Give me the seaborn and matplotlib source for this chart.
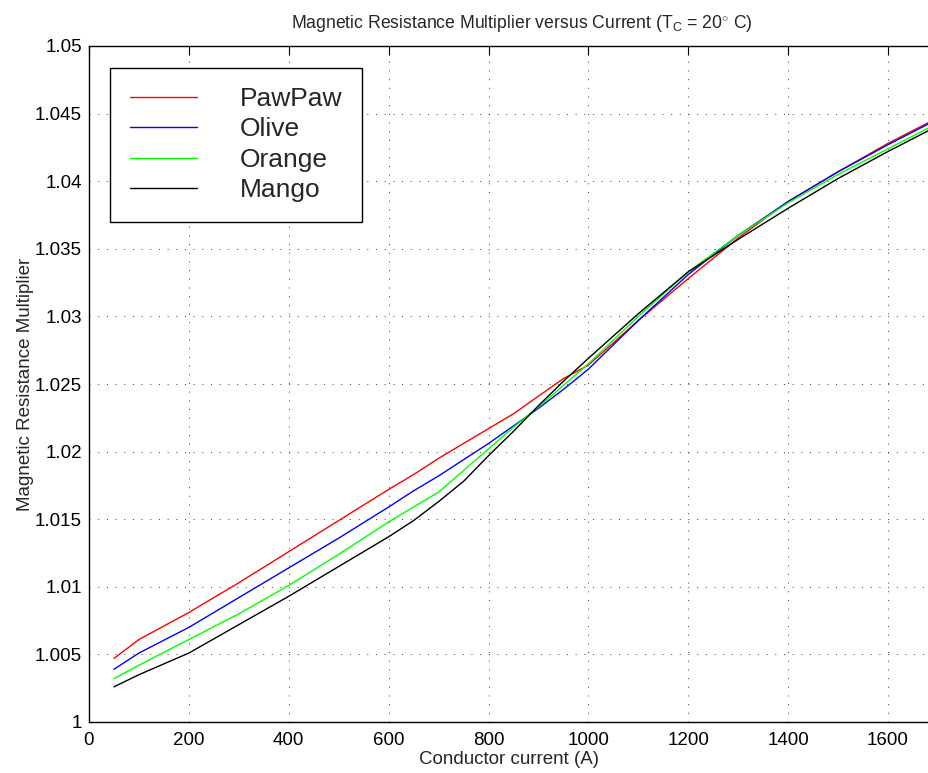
import matplotlib
matplotlib.use("Agg")
import matplotlib.pyplot as plt
import matplotlib.ticker as mticker
import pandas as pd
import seaborn as sns

# values
current = [50, 100, 200, 300, 400, 500, 600, 650, 700, 750, 800, 850,
           900, 950, 1000, 1100, 1200, 1300, 1400, 1500, 1600, 1700]

pawpaw = [1.0047, 1.0061, 1.0081, 1.0103, 1.0126, 1.0149, 1.0172, 1.0183,
          1.0195, 1.0206, 1.0217, 1.0228, 1.0241, 1.0254, 1.0264, 1.0297,
          1.0328, 1.0358, 1.0385, 1.0407, 1.0428, 1.0447]
olive = [1.0039, 1.0051, 1.0070, 1.0092, 1.0114, 1.0136, 1.0159, 1.0171,
         1.0182, 1.0194, 1.0206, 1.0219, 1.0232, 1.0246, 1.0261, 1.0297,
         1.0331, 1.0360, 1.0385, 1.0407, 1.0427, 1.0446]
orange = [1.0032, 1.0042, 1.0061, 1.0080, 1.0101, 1.0124, 1.0148, 1.0159,
          1.0170, 1.0186, 1.0202, 1.0218, 1.0233, 1.0249, 1.0265, 1.0300,
          1.0333, 1.0360, 1.0384, 1.0405, 1.0424, 1.0443]
mango = [1.0026, 1.0035, 1.0051, 1.0072, 1.0093, 1.0115, 1.0137, 1.0149,
         1.0163, 1.0178, 1.0197, 1.0215, 1.0234, 1.0252, 1.0269, 1.0302,
         1.0333, 1.0357, 1.0380, 1.0402, 1.0422, 1.0441]

names = ["PawPaw", "Olive", "Orange", "Mango"]
colors = ["#ff0000", "#0000ff", "#00ff00", "#000000"]

x_ticks = [0, 200, 400, 600, 800, 1000, 1200, 1400, 1600]
y_ticks = [1.0, 1.005, 1.01, 1.015, 1.02, 1.025, 1.03, 1.035, 1.04, 1.045, 1.05]

# long-form table for seaborn
frames = []
for name, vals in zip(names, [pawpaw, olive, orange, mango]):
    frames.append(pd.DataFrame({"current": current, "multiplier": vals, "conductor": name}))
df = pd.concat(frames, ignore_index=True)

sns.set_style("white")
plt.rcParams['font.family'] = ['Liberation Sans', 'DejaVu Sans']
plt.rcParams['mathtext.fontset'] = 'custom'
plt.rcParams['mathtext.rm'] = 'Liberation Sans'
plt.rcParams['mathtext.it'] = 'Liberation Sans:italic'

fig = plt.figure(figsize=(9.29, 7.73), dpi=100)
ax = fig.add_axes([89/929, 51/773, 840/929, 676/773])

sns.lineplot(data=df, x="current", y="multiplier", hue="conductor",
             hue_order=names, palette=colors, estimator=None, sort=False,
             linewidth=1.0, ax=ax)

ax.set_xlim(0, 1682)
ax.set_ylim(1.0, 1.05)
ax.set_xticks(x_ticks)
ax.set_yticks(y_ticks)
ax.yaxis.set_major_formatter(mticker.FuncFormatter(lambda v, p: f"{v:g}"))

ax.grid(True, color="k", linestyle=(0, (1.5, 11)), linewidth=0.5)
ax.tick_params(direction="in", length=6.5, width=0.8, top=True, right=False,
               labelsize=13.5, colors="k")
ax.tick_params(axis="x", pad=7)
ax.tick_params(axis="y", pad=5)
for s in ["left", "top", "bottom"]:
    ax.spines[s].set_color("k")
    ax.spines[s].set_linewidth(1.0)
ax.spines["right"].set_visible(False)

ax.set_xlabel("Conductor current (A)", fontsize=13.5, labelpad=2)
ax.set_ylabel("Magnetic Resistance Multiplier", fontsize=13.5, labelpad=1)
ax.set_title(r"Magnetic Resistance Multiplier versus Current (T$_{\mathrm{C}}$ = 20$^{\circ}$ C)",
             fontsize=12.7, x=0.5155, pad=13)

sns.move_legend(ax, "upper left", bbox_to_anchor=(0.025, 0.968), title=None,
                borderaxespad=0, fontsize=19, handlelength=2.54,
                handletextpad=1.63, labelspacing=0.24, borderpad=0.74,
                frameon=True, fancybox=False, edgecolor="k", framealpha=1)
ax.get_legend().get_frame().set_linewidth(1.0)

fig.savefig("out.png", dpi=100)
